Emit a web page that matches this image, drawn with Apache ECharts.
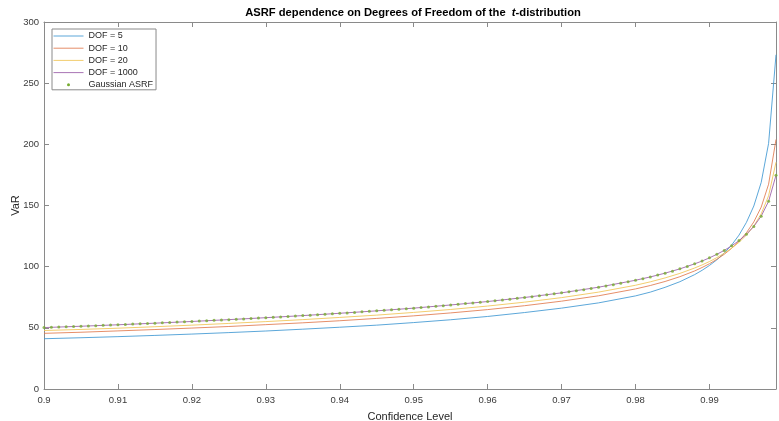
<!DOCTYPE html>
<html>
<head>
<meta charset="utf-8">
<script src="https://cdn.jsdelivr.net/npm/echarts@6/dist/echarts.min.js"></script>
<style>
  html, body { margin: 0; padding: 0; background: #fff; }
  #chart { width: 779px; height: 421px; }
</style>
</head>
<body>
<div id="chart"></div>
<script>
// Confidence levels sampled for the Gaussian ASRF markers
const confDense = [
  0.900, 0.901, 0.902, 0.903, 0.904, 0.905, 0.906, 0.907, 0.908, 0.909,
  0.910, 0.911, 0.912, 0.913, 0.914, 0.915, 0.916, 0.917, 0.918, 0.919,
  0.920, 0.921, 0.922, 0.923, 0.924, 0.925, 0.926, 0.927, 0.928, 0.929,
  0.930, 0.931, 0.932, 0.933, 0.934, 0.935, 0.936, 0.937, 0.938, 0.939,
  0.940, 0.941, 0.942, 0.943, 0.944, 0.945, 0.946, 0.947, 0.948, 0.949,
  0.950, 0.951, 0.952, 0.953, 0.954, 0.955, 0.956, 0.957, 0.958, 0.959,
  0.960, 0.961, 0.962, 0.963, 0.964, 0.965, 0.966, 0.967, 0.968, 0.969,
  0.970, 0.971, 0.972, 0.973, 0.974, 0.975, 0.976, 0.977, 0.978, 0.979,
  0.980, 0.981, 0.982, 0.983, 0.984, 0.985, 0.986, 0.987, 0.988, 0.989,
  0.990, 0.991, 0.992, 0.993, 0.994, 0.995, 0.996, 0.997, 0.998, 0.999
];
// Gaussian ASRF VaR at each of those levels
const gaussianVaR = [
  50.2, 50.4, 50.7, 50.9, 51.1, 51.3, 51.6, 51.8, 52.1, 52.3,
  52.5, 52.8, 53.1, 53.3, 53.6, 53.8, 54.1, 54.4, 54.7, 54.9,
  55.2, 55.5, 55.8, 56.1, 56.4, 56.7, 57.0, 57.3, 57.6, 58.0,
  58.3, 58.6, 58.9, 59.3, 59.6, 60.0, 60.3, 60.7, 61.1, 61.5,
  61.9, 62.2, 62.6, 63.1, 63.5, 63.9, 64.3, 64.8, 65.2, 65.7,
  66.1, 66.6, 67.1, 67.6, 68.1, 68.7, 69.2, 69.8, 70.3, 70.9,
  71.5, 72.1, 72.8, 73.4, 74.1, 74.8, 75.5, 76.2, 77.0, 77.8,
  78.6, 79.4, 80.3, 81.2, 82.2, 83.2, 84.2, 85.3, 86.4, 87.6,
  88.9, 90.2, 91.6, 93.1, 94.7, 96.3, 98.2, 100.1, 102.3, 104.6,
  107.2, 110.1, 113.3, 117.0, 121.3, 126.5, 132.9, 141.3, 153.4, 174.7
];

// Confidence levels for the t-distribution curves
const confLine = [
  0.900, 0.905, 0.910, 0.915, 0.920, 0.925, 0.930, 0.935, 0.940, 0.945,
  0.950, 0.955, 0.960, 0.965, 0.970, 0.975, 0.980, 0.982, 0.984, 0.986,
  0.988, 0.989, 0.990, 0.991, 0.992, 0.993, 0.994, 0.995, 0.996, 0.997,
  0.998, 0.999
];
const dof5 = [
  41.1, 41.9, 42.8, 43.8, 44.9, 46.1, 47.4, 48.9, 50.5, 52.2,
  54.3, 56.6, 59.3, 62.5, 66.1, 70.4, 76.1, 79.2, 83.1, 87.7,
  93.5, 97.0, 101.0, 105.6, 111.1, 117.7, 125.8, 136.2, 149.6, 168.9,
  200.8, 273.2
];
const dof10 = [
  45.5, 46.4, 47.5, 48.6, 49.8, 51.1, 52.6, 54.1, 55.8, 57.7,
  59.8, 62.2, 64.9, 68.1, 71.8, 76.2, 81.8, 84.6, 87.9, 91.8,
  96.5, 99.3, 102.4, 106.0, 110.1, 115.0, 120.7, 127.7, 136.6, 148.7,
  167.4, 204.0
];
const dof20 = [
  47.8, 48.7, 49.7, 50.9, 52.2, 53.6, 55.1, 56.7, 58.5, 60.4,
  62.6, 65.0, 67.8, 71.0, 74.7, 79.2, 84.8, 87.6, 90.8, 94.5,
  98.9, 101.4, 104.2, 107.4, 111.0, 115.1, 119.9, 125.8, 133.2, 143.2,
  158.0, 185.4
];
const dof1000 = [
  50.2, 51.3, 52.5, 53.8, 55.2, 56.7, 58.3, 60.0, 61.9, 63.9,
  66.1, 68.7, 71.5, 74.8, 78.6, 83.2, 88.9, 91.6, 94.7, 98.2,
  102.3, 104.6, 107.2, 110.1, 113.3, 117.0, 121.3, 126.5, 132.9, 141.3,
  153.4, 174.7
];

const seriesNames = ['DOF = 5', 'DOF = 10', 'DOF = 20', 'DOF = 1000', 'Gaussian ASRF'];
const seriesColors = ['#3f98d2', '#e07a4f', '#f0c456', '#9a5da8', '#77AC30'];
const yTicks = [0, 50, 100, 150, 200, 250, 300];

const zip = (xs, ys) => xs.map((x, i) => [x, ys[i]]);
const lineValues = [dof5, dof10, dof20, dof1000];

const axisGray = '#8a8a8a';
const labelColor = '#3a3a3a';
const font = 'Liberation Sans, Arial, Helvetica, sans-serif';

const lineSeries = lineValues.map((vals, i) => ({
  name: seriesNames[i],
  type: 'line',
  data: zip(confLine, vals),
  symbol: 'none',
  lineStyle: { color: seriesColors[i], width: 1, opacity: 0.85 },
  itemStyle: { color: seriesColors[i] },
  z: 2 + i,
  animation: false
}));

const option = {
  animation: false,
  backgroundColor: '#ffffff',
  textStyle: { fontFamily: font },
  title: {
    text: '{a|ASRF dependence on Degrees of Freedom of the  }{b|t}{a|-distribution}',
    left: 408,
    top: 2,
    textAlign: 'center',
    textStyle: {
      rich: {
        a: { fontSize: 11.2, fontWeight: 'bold', color: '#000', fontFamily: font },
        b: { fontSize: 11.2, fontWeight: 'bold', fontStyle: 'italic', color: '#000', fontFamily: font }
      }
    }
  },
  legend: {
    orient: 'vertical',
    left: 52,
    top: 29,
    padding: [2, 3, 0, 1],
    itemWidth: 30,
    itemHeight: 3,
    itemGap: 2.2,
    backgroundColor: '#ffffff',
    borderColor: '#8a8a8a',
    borderWidth: 1,
    lineStyle: { width: 1 },
    itemStyle: { opacity: 0 },
    textStyle: { fontSize: 9, color: '#262626', fontFamily: font, lineHeight: 10 },
    data: [
      { name: seriesNames[0] },
      { name: seriesNames[1] },
      { name: seriesNames[2] },
      { name: seriesNames[3] },
      { name: seriesNames[4], icon: 'circle', itemStyle: { opacity: 1, color: seriesColors[4] } }
    ]
  },
  grid: { left: 44, right: 3, top: 22, bottom: 32, containLabel: false, outerBoundsMode: 'none' },
  xAxis: [
    {
      type: 'value', position: 'bottom', min: 0.9, max: 0.999, interval: 0.01,
      name: 'Confidence Level', nameLocation: 'middle', nameGap: 22,
      nameTextStyle: { fontSize: 11, color: '#262626', fontFamily: font },
      axisLine: { show: true, onZero: false, lineStyle: { color: axisGray, width: 1 } },
      axisTick: { show: true, inside: true, length: 5, lineStyle: { color: axisGray } },
      axisLabel: { fontSize: 9.5, color: labelColor, margin: 6, showMaxLabel: false, fontFamily: font },
      splitLine: { show: false }
    },
    {
      type: 'value', position: 'top', min: 0.9, max: 0.999, interval: 0.01,
      axisLine: { show: true, onZero: false, lineStyle: { color: axisGray, width: 1 } },
      axisTick: { show: true, inside: true, length: 5, lineStyle: { color: axisGray } },
      axisLabel: { show: false },
      splitLine: { show: false }
    }
  ],
  yAxis: [
    {
      type: 'value', position: 'left', min: yTicks[0], max: yTicks[yTicks.length - 1], interval: 50,
      name: 'VaR', nameLocation: 'middle', nameGap: 23, nameRotate: 90, nameMoveOverlap: false,
      nameTextStyle: { fontSize: 11, color: '#262626', fontFamily: font },
      axisLine: { show: true, onZero: false, lineStyle: { color: axisGray, width: 1 } },
      axisTick: { show: true, inside: true, length: 5, lineStyle: { color: axisGray } },
      axisLabel: { fontSize: 9.5, color: labelColor, margin: 5, fontFamily: font },
      splitLine: { show: false }
    },
    {
      type: 'value', position: 'right', min: yTicks[0], max: yTicks[yTicks.length - 1], interval: 50,
      axisLine: { show: true, onZero: false, lineStyle: { color: axisGray, width: 1 } },
      axisTick: { show: true, inside: true, length: 5, lineStyle: { color: axisGray } },
      axisLabel: { show: false },
      splitLine: { show: false }
    }
  ],
  series: lineSeries.concat([{
    name: seriesNames[4],
    type: 'scatter',
    data: zip(confDense, gaussianVaR),
    symbol: 'circle',
    symbolSize: 3,
    itemStyle: { color: seriesColors[4] },
    z: 10,
    animation: false
  }])
};

const chart = echarts.init(document.getElementById('chart'), null, { renderer: 'canvas' });
chart.setOption(option);
</script>
</body>
</html>
